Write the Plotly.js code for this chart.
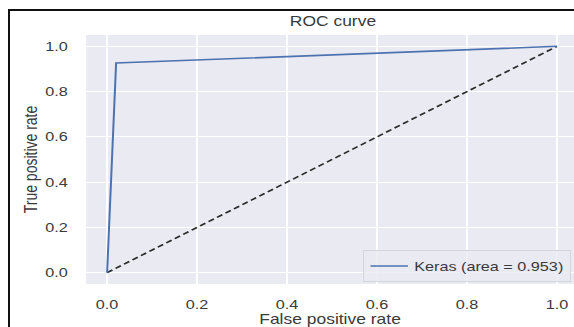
<!DOCTYPE html>
<html>
<head>
<meta charset="utf-8">
<script src="https://cdn.plot.ly/plotly-3.0.1.min.js"></script>
<style>
html,body{margin:0;padding:0;overflow:hidden;background:#fff;}
#wrap{position:relative;width:574px;height:327px;overflow:hidden;}
#chart{position:absolute;left:0;top:0;width:460px;height:327px;transform:scaleX(1.2478);transform-origin:0 0;}
#frame{position:absolute;left:8px;top:9px;width:580px;height:330px;border-top:2px solid #111;border-left:2px solid #111;pointer-events:none;}
</style>
</head>
<body>
<div id="wrap"><div id="chart"></div><div id="frame"></div></div>
<script>
const fpr = [0.0, 0.02, 1.0];
const tpr = [0.0, 0.926, 1.0];
const chanceX = [0, 1];
const chanceY = [0, 1];
const seriesName = 'Keras (area = 0.953)';
const tickVals = [0, 0.2, 0.4, 0.6, 0.8, 1.0];
const tickText = ['0.0', '0.2', '0.4', '0.6', '0.8', '1.0'];

const fam = 'Liberation Sans, Arial, sans-serif';
const txt = '#3a3a3a';

const traces = [
  {x: chanceX, y: chanceY, mode: 'lines', line: {color: '#2b2b2b', width: 1.6, dash: '5px,3px'}, showlegend: false, hoverinfo: 'skip'},
  {x: fpr, y: tpr, mode: 'lines', name: seriesName, line: {color: '#4C72B0', width: 1.6}}
];

const layout = {
  width: 460, height: 327,
  margin: {l: 69, r: 0, t: 35, b: 43},
  paper_bgcolor: '#ffffff',
  plot_bgcolor: '#EAEAF2',
  font: {family: fam, size: 13, color: txt},
  title: {text: 'ROC curve', font: {family: fam, size: 14, color: txt}, x: 0.506, xref: 'paper', xanchor: 'center', y: 0.934, yref: 'container', yanchor: 'middle'},
  xaxis: {
    range: [-0.0467, 1.0378], tickvals: tickVals, ticktext: tickText,
    showgrid: true, gridcolor: '#ffffff', gridwidth: 1.2, zeroline: false, showline: false,
    ticks: 'outside', ticklen: 8, tickcolor: 'rgba(0,0,0,0)',
    tickfont: {family: fam, size: 13, color: txt},
    title: {text: 'False positive rate', font: {family: fam, size: 14, color: txt}, standoff: 0},
    fixedrange: true
  },
  yaxis: {
    range: [-0.05, 1.05], tickvals: tickVals, ticktext: tickText,
    showgrid: true, gridcolor: '#ffffff', gridwidth: 1.2, zeroline: false, showline: false,
    ticks: 'outside', ticklen: 11, tickcolor: 'rgba(0,0,0,0)',
    tickfont: {family: fam, size: 13, color: txt},
    title: {text: 'True positive rate', font: {family: fam, size: 14, color: txt}, standoff: 2},
    fixedrange: true
  },
  legend: {
    x: 0.5676, y: 0.008, xanchor: 'left', yanchor: 'bottom',
    bgcolor: 'rgba(234,234,242,0.85)', bordercolor: '#d4d4dc', borderwidth: 1,
    font: {family: fam, size: 13, color: txt}
  },
  showlegend: true
};

Plotly.newPlot('chart', traces, layout, {displayModeBar: false, staticPlot: true});
</script>
</body>
</html>
